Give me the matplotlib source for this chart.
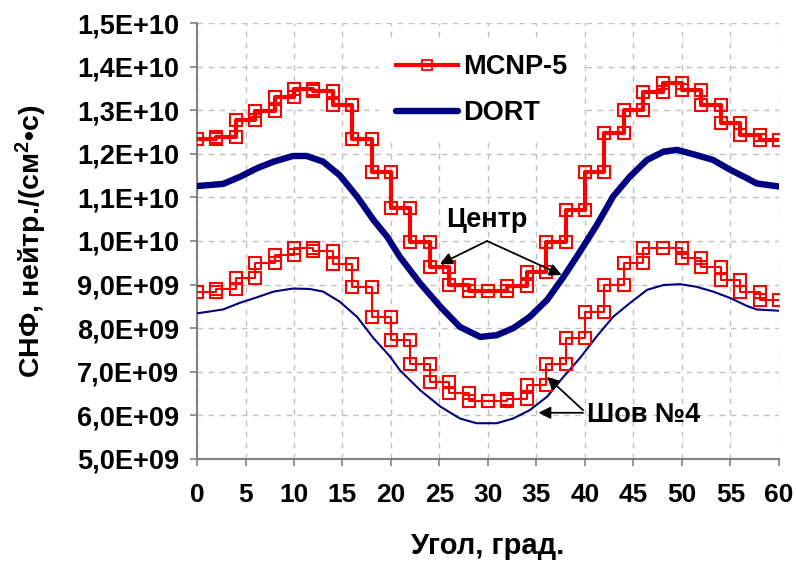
import numpy as np
import matplotlib
matplotlib.use("Agg")
import matplotlib.pyplot as plt
from matplotlib.lines import Line2D
from matplotlib.ticker import FuncFormatter

plt.rcParams['font.family'] = ['Liberation Sans', 'DejaVu Sans']
plt.rcParams['font.weight'] = 'bold'
plt.rcParams['mathtext.fontset'] = 'custom'
plt.rcParams['mathtext.rm'] = 'Liberation Sans:bold'
plt.rcParams['mathtext.it'] = 'Liberation Sans:bold'
plt.rcParams['mathtext.bf'] = 'Liberation Sans:bold'

# ---- data (units of 1E9) ----
bin_edges = np.arange(0, 62, 2)  # 0..60, 30 bins of 2 degrees

mcnp_center = [12.33, 12.39, 12.78, 12.99, 13.30, 13.48, 13.45, 13.12, 12.33, 11.59,
               10.76, 9.98, 9.41, 8.99, 8.86, 8.86, 8.97, 9.30, 9.98, 10.71,
               11.59, 12.47, 13.00, 13.42, 13.62, 13.46, 13.12, 12.70, 12.43, 12.32]

mcnp_weld = [8.83, 8.91, 9.14, 9.49, 9.69, 9.85, 9.78, 9.47, 8.95, 8.26,
             7.73, 7.19, 6.76, 6.51, 6.34, 6.33, 6.38, 6.70, 7.19, 7.77,
             8.38, 8.99, 9.49, 9.83, 9.83, 9.60, 9.41, 9.11, 8.84, 8.65]

dort_center_x = [0, 2.7, 4.4, 6.2, 7.9, 9.9, 11.3, 13.0, 14.7, 16.5, 18.2, 19.6, 20.9,
                 23.0, 25.1, 27.1, 29.2, 30.9, 32.6, 34.3, 36.1, 37.8, 39.5, 41.2,
                 42.9, 44.6, 46.4, 48.1, 49.5, 51.5, 53.2, 55.0, 56.7, 57.7, 60]
dort_center = [11.26, 11.31, 11.47, 11.67, 11.82, 11.95, 11.95, 11.82, 11.51, 11.02,
               10.48, 10.10, 9.64, 9.03, 8.49, 8.03, 7.80, 7.84, 8.00, 8.26, 8.65,
               9.18, 9.76, 10.36, 11.02, 11.47, 11.86, 12.05, 12.09, 11.97, 11.86,
               11.63, 11.44, 11.32, 11.25]

dort_weld_x = [0, 2.7, 4.4, 6.2, 7.9, 9.9, 11.6, 13.0, 14.7, 16.5, 18.2, 19.9, 20.9,
               23.0, 25.1, 27.1, 28.8, 30.9, 32.6, 34.3, 36.1, 37.8, 39.5, 41.2,
               42.9, 44.6, 46.4, 48.1, 49.8, 51.5, 53.2, 55.0, 56.7, 57.7, 60]
dort_weld = [8.34, 8.43, 8.58, 8.71, 8.84, 8.91, 8.90, 8.84, 8.61, 8.26, 7.77, 7.35,
             7.04, 6.58, 6.20, 5.93, 5.82, 5.82, 5.93, 6.12, 6.43, 6.89, 7.32, 7.81,
             8.26, 8.57, 8.88, 8.99, 9.01, 8.95, 8.84, 8.69, 8.51, 8.43, 8.40]

x_ticks = list(range(0, 65, 5))
y_ticks = [5e9, 6e9, 7e9, 8e9, 9e9, 1e10, 1.1e10, 1.2e10, 1.3e10, 1.4e10, 1.5e10]

RED = '#ff0000'
NAVY = '#000080'
SCALE = 1e9


def step_xy(edges, vals):
    xs = np.column_stack([edges[:-1], edges[1:]]).ravel()
    ys = np.repeat(np.asarray(vals) * SCALE, 2)
    return xs, ys


fig = plt.figure(figsize=(7.96, 5.64), dpi=100)
ax = fig.add_axes([0.2475, 0.1862, 0.9786 - 0.2475, 0.9592 - 0.1862])

ax.set_xlim(0, 60)
ax.set_ylim(5e9, 1.5e10)
ax.set_xticks(x_ticks)
ax.set_yticks(y_ticks)

ax.grid(True, color='#c0c0c0', linestyle=(0, (4, 4)), linewidth=1.0, zorder=0)
ax.set_axisbelow(True)

# MCNP steps
xs, ys = step_xy(bin_edges, mcnp_center)
ax.plot(xs, ys, color=RED, lw=3.0, marker='s', ms=8.5, mfc='none', mec=RED, mew=1.5, zorder=4)
xs, ys = step_xy(bin_edges, mcnp_weld)
ax.plot(xs, ys, color=RED, lw=1.5, marker='s', ms=8.5, mfc='none', mec=RED, mew=1.5, zorder=4)

# DORT
ax.plot(dort_center_x, np.asarray(dort_center) * SCALE, color=NAVY, lw=4.6,
        solid_capstyle='round', solid_joinstyle='round', zorder=3)
ax.plot(dort_weld_x, np.asarray(dort_weld) * SCALE, color=NAVY, lw=1.5, zorder=3)


def fmt(v, pos):
    e = int(np.floor(np.log10(v) + 1e-9))
    m = v / 10 ** e
    return f"{m:.1f}".replace('.', ',') + f"E+{e:02d}"


ax.yaxis.set_major_formatter(FuncFormatter(fmt))

for s in ['top', 'right']:
    ax.spines[s].set_visible(False)
for s in ['left', 'bottom']:
    ax.spines[s].set_color('#808080')
    ax.spines[s].set_linewidth(1.5)
ax.tick_params(axis='both', direction='out', length=5, width=1.2, color='#808080',
               labelsize=19.5, pad=6)
ax.tick_params(axis='x', labelsize=19, pad=12)
ax.tick_params(axis='y', pad=8)
for lab in ax.get_xticklabels() + ax.get_yticklabels():
    lab.set_fontweight('bold')

ax.set_xlabel('Угол, град.', fontsize=21, fontweight='bold')
ax.set_ylabel('СНФ, нейтр./(см$^2$•с)', fontsize=20.5, fontweight='bold')
ax.xaxis.set_label_coords(0.5, -0.168)
ax.yaxis.set_label_coords(-0.254, 0.5)

# legend
handles = [Line2D([], [], color=RED, lw=3.0, marker='s', ms=7, mfc='none', mec=RED, mew=1.3),
           Line2D([], [], color=NAVY, lw=4.6, solid_capstyle='round')]
leg = ax.legend(handles, ['MCNP-5', 'DORT'], loc='upper left', bbox_to_anchor=(0.29, 0.997),
                frameon=True, facecolor='white', edgecolor='none', framealpha=1,
                prop={'size': 19.5, 'weight': 'bold'}, handlelength=2.3, handletextpad=0.2,
                labelspacing=0.75, borderpad=0.6)
leg.set_zorder(5)

# annotations
arrow = dict(arrowstyle='-|>', color='black', lw=1.3, mutation_scale=18, shrinkA=0, shrinkB=0)
ax.text(29.9, 10.48e9, 'Центр', fontsize=19.5, fontweight='bold', ha='center', va='center', zorder=6)
ax.annotate('', xy=(25.05, 9.47e9), xytext=(29.9, 10.0e9), arrowprops=arrow, zorder=6)
ax.annotate('', xy=(37.6, 9.22e9), xytext=(29.9, 10.0e9), arrowprops=arrow, zorder=6)

ax.text(40.2, 6.01e9, 'Шов №4', fontsize=19.5, fontweight='bold', ha='left', va='center', zorder=6)
ax.annotate('', xy=(36.1, 6.88e9), xytext=(39.8, 6.12e9), arrowprops=arrow, zorder=6)
ax.annotate('', xy=(35.2, 6.06e9), xytext=(39.8, 6.06e9), arrowprops=arrow, zorder=6)

fig.savefig('out.png', dpi=100)
